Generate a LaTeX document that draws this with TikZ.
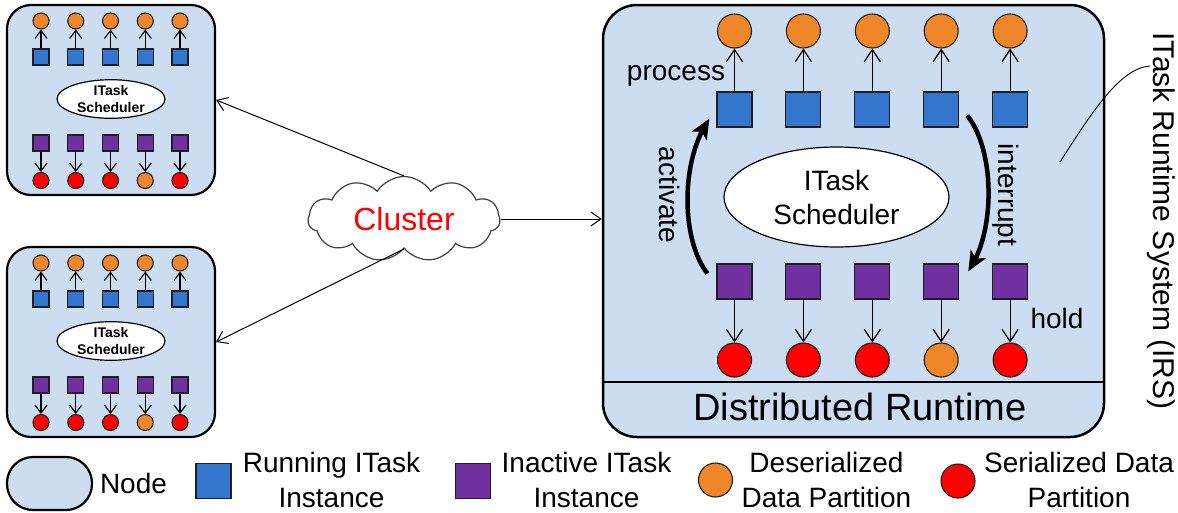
\documentclass[tikz,border=0pt]{standalone}
\usepackage{fontspec}
\setmainfont{Liberation Sans}
\usetikzlibrary{shapes.geometric,shapes.symbols,arrows.meta,bending,calc}

\definecolor{nodefill}{RGB}{205,221,241}
\definecolor{runblue}{RGB}{52,117,205}
\definecolor{inactpurple}{RGB}{112,48,160}
\definecolor{deserorange}{RGB}{239,134,41}
\definecolor{serred}{RGB}{255,0,0}
\definecolor{edgegray}{RGB}{30,30,30}

\tikzset{
  nodebox/.style={draw=black, fill=nodefill, line width=2.2pt, inner sep=0},
  runsq/.style={rectangle, draw=edgegray, fill=runblue, line width=1.1pt, inner sep=0},
  inactsq/.style={rectangle, draw=edgegray, fill=inactpurple, line width=1.1pt, inner sep=0},
  datacirc/.style={circle, draw=edgegray, line width=1.1pt, inner sep=0},
  sched/.style={ellipse, draw=black, fill=white, line width=1.2pt, align=center, inner sep=0},
  smallflow/.style={line width=1.1pt, -{Straight Barb[length=8pt,width=12pt]}},
  flow/.style={line width=1.2pt, -{Straight Barb[length=12pt,width=16pt]}},
  link/.style={line width=1pt, -{Straight Barb[length=10pt,width=14pt]}},
  turn/.style={line width=4.5pt, -{Stealth[length=20pt,width=17pt,inset=5pt,flex]}},
  bigtext/.style={font=\fontsize{28}{34}\selectfont, inner sep=0},
  lgtext/.style={font=\fontsize{28}{35}\selectfont, align=center, inner sep=0},
  minirt/.pic={
    \node[nodebox, rounded corners=24pt, minimum width=208pt, minimum height=190pt] (-box) at (111,100) {};
    \node[sched, minimum width=108pt, minimum height=34pt,
          font=\bfseries\fontsize{14}{17}\selectfont] (-sch) at (111,99) {ITask\\Scheduler};
    \foreach \i [evaluate=\i as \x using 41+34.75*(\i-1)] in {1,...,5}{
      \ifnum\i=4 \def\bcol{deserorange}\else\def\bcol{serred}\fi
      \node[datacirc, fill=deserorange, minimum size=16pt] (-d\i) at (\x,21) {};
      \node[runsq, minimum size=16pt] (-r\i) at (\x,57) {};
      \draw[smallflow] (-r\i) -- (-d\i);
      \node[inactsq, minimum size=16pt] (-p\i) at (\x,143) {};
      \node[datacirc, fill=\bcol, minimum size=16pt] (-s\i) at (\x,180.5) {};
      \draw[smallflow] (-p\i) -- (-s\i);
    }
  }
}

\begin{document}
\begin{tikzpicture}[x=1pt, y=-1pt]
\useasboundingbox (0,0) rectangle (1178,512);

% two small compute nodes
\pic (tl) at (0,0) {minirt};
\pic (bl) at (0,242) {minirt};

% the cluster
\node[cloud, cloud puffs=11, cloud puff arc=115, aspect=2.3, draw=black!75, line width=1.2pt,
      fill=white, minimum width=192pt, minimum height=85pt, inner sep=0,
      text=red, font=\fontsize{32}{38}\selectfont] (cl) at (404,219) {Cluster};

% the ITask runtime system node
\node[nodebox, rounded corners=34pt, line width=2.5pt, minimum width=501pt, minimum height=432pt] (irs) at (853.5,221) {};
\coordinate (sep) at (0,382);
\draw[line width=1.3pt] (irs.west |- sep) -- (irs.east |- sep);
\node[font=\fontsize{38}{45}\selectfont, inner sep=0, anchor=base] (dr) at (860,420) {Distributed Runtime};

\node[sched, minimum width=225pt, minimum height=100pt, font=\fontsize{28}{34}\selectfont] (bsch) at (836.5,197) {ITask\\Scheduler};

\foreach \i [evaluate=\i as \x using 734.5+68.9*(\i-1)] in {1,...,5}{
  \ifnum\i=4 \def\bcol{deserorange}\else\def\bcol{serred}\fi
  \node[datacirc, fill=deserorange, minimum size=34pt] (bd\i) at (\x,31) {};
  \node[runsq, minimum size=35pt] (b\i) at (\x,109.5) {};
  \draw[flow] (b\i) -- (bd\i);
  \node[inactsq, minimum size=35pt] (p\i) at (\x,281.5) {};
  \node[datacirc, fill=\bcol, minimum size=34pt] (ps\i) at (\x,360) {};
  \draw[flow] (p\i) -- (ps\i);
}

\node[bigtext, anchor=base] (lproc) at (676,80) {process};
\node[bigtext, anchor=base] (lhold) at (1057,328) {hold};

% activate / interrupt transitions
\draw[turn] ([shift={(-9,10)}]p1.north west) .. controls (681,240) and (680,160) .. ([shift={(-7,-9)}]b1.south west);
\draw[turn] ([shift={(8,-12)}]b4.south east) .. controls (995,150) and (996,232) .. ([shift={(9,8)}]p4.north east);
\node[bigtext, rotate=-90] (lact) at (669,195) {activate};
\node[bigtext, rotate=-90] (lint) at (1006,195) {interrupt};

% runtime system label with leader
\node[font=\fontsize{30}{36}\selectfont, inner sep=0, rotate=-90] (lirs) at (1161,221) {ITask Runtime System (IRS)};
\coordinate (lead-a) at (1060,162);
\coordinate (lead-b) at (1150,66);
\draw[line width=0.9pt] (lead-a) .. controls (1092,112) and (1120,68) .. (lead-b);

% cluster links
\draw[link] (cl.north) -- (tl-box.east);
\draw[link] (cl.south) -- (bl-box.east);
\draw[link] (cl.east) -- (cl.east -| irs.west);

% legend
\node[nodebox, rounded corners=26pt, minimum width=85pt, minimum height=53pt] (lg-node) at (49.5,483.5) {};
\node[lgtext] (lg-nodet) at (133.5,483) {Node};
\node[runsq, minimum size=35pt] (lg-run) at (213.5,481) {};
\node[lgtext] (lg-runt) at (331.5,480) {Running ITask\\Instance};
\node[inactsq, minimum size=35pt] (lg-ina) at (473,481) {};
\node[lgtext] (lg-inat) at (586.5,480) {Inactive ITask\\Instance};
\node[datacirc, fill=deserorange, minimum size=34pt] (lg-des) at (715.5,480) {};
\node[lgtext] (lg-dest) at (826.5,480) {Deserialized\\Data Partition};
\node[datacirc, fill=serred, minimum size=34pt] (lg-ser) at (958,481) {};
\node[lgtext] (lg-sert) at (1079,480) {Serialized Data\\Partition};
\end{tikzpicture}
\end{document}
